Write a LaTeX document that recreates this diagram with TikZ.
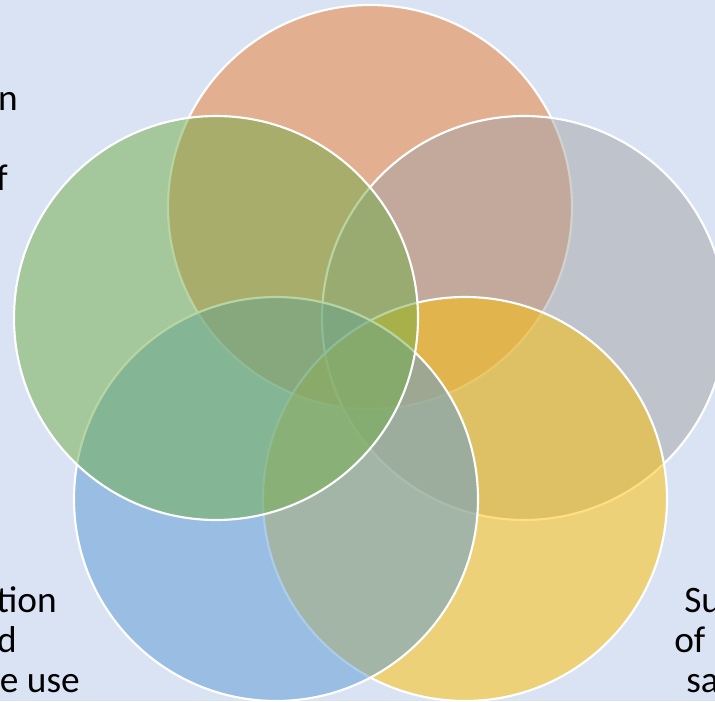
\documentclass[tikz,border=0pt]{standalone}
\usepackage{fontspec}
\setmainfont{Carlito}
\usetikzlibrary{positioning}

\definecolor{bgblue}{HTML}{DAE3F3}
\definecolor{vorange}{HTML}{ED7D31}
\definecolor{vgrey}{HTML}{A5A5A5}
\definecolor{vyellow}{HTML}{FFC000}
\definecolor{vblue}{HTML}{5B9BD5}
\definecolor{vgreen}{HTML}{70AD47}

\begin{document}
\begin{tikzpicture}[
    x=0.75pt,y=-0.75pt,
    ring/.style={draw=white,line width=1.6pt,fill opacity=0.5},
    snippet/.style={font={\fontsize{28}{33}\selectfont},inner sep=0pt},
    ]
    % background
    \fill[bgblue] (0,0) rectangle (715,701);
    \useasboundingbox (0,0) rectangle (715,701);
    \clip (0,0) rectangle (715,701);

    % centres
    \coordinate (top) at (370,207);
    \coordinate (right) at (524,318);
    \coordinate (botright) at (465,499);
    \coordinate (botleft) at (276,499);
    \coordinate (left) at (216,318);

    % circles
    \draw[ring,fill=vorange] (top) circle (151.5pt);
    \draw[ring,fill=vgrey] (right) circle (151.5pt);
    \draw[ring,fill=vyellow] (botright) circle (151.5pt);
    \draw[ring,fill=vblue] (botleft) circle (151.5pt);
    \draw[ring,fill=vgreen] (left) circle (151.5pt);

    % text cut off at the edges
    \node[snippet,anchor=base east] (t1) at (18,110) {n};
    \node[snippet,anchor=base east] (t2) at (8,190) {f};
    \node[snippet,anchor=base east] (t3) at (57,612) {tion};
    \node[snippet,anchor=base east] (t4) at (17,652) {d};
    \node[snippet,anchor=base east] (t5) at (80,692) {e use};
    \node[snippet,anchor=base west] (t6) at (684,612) {Su};
    \node[snippet,anchor=base west] (t7) at (674,652) {of};
    \node[snippet,anchor=base west] (t8) at (686,692) {sa};
\end{tikzpicture}
\end{document}
